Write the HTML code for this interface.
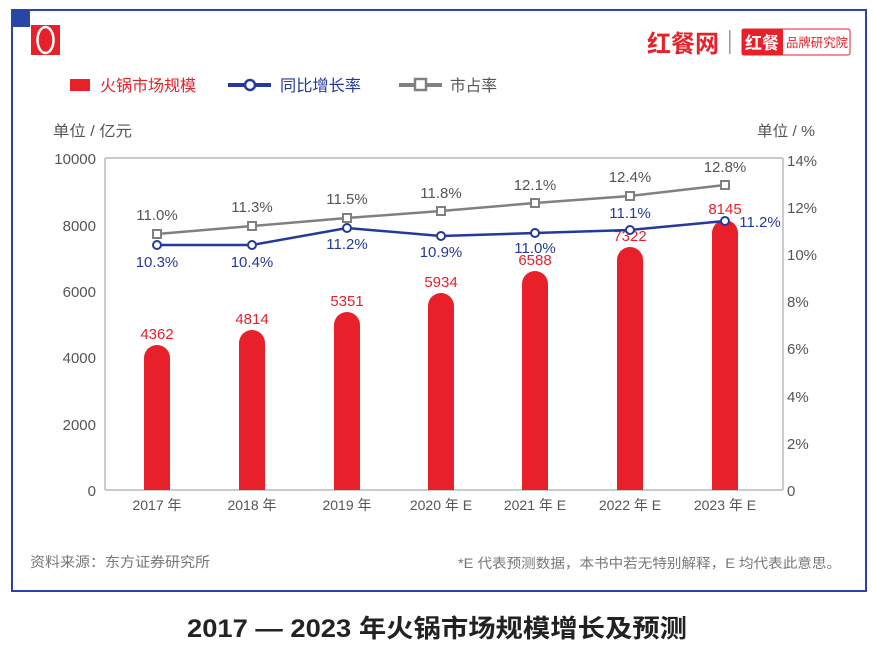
<!DOCTYPE html><html><head><meta charset="utf-8"><style>
body{margin:0;width:873px;height:654px;background:#fff;font-family:"Liberation Sans","Noto Sans CJK SC",sans-serif;overflow:hidden}
</style></head><body>
<svg width="873" height="654" xmlns="http://www.w3.org/2000/svg" font-family="Liberation Sans, Noto Sans CJK SC, sans-serif">
<rect x="12" y="10" width="854" height="581" fill="#fff" stroke="#2a45a8" stroke-width="2"/>
<rect x="11" y="9" width="19" height="18" fill="#2a45a8"/>
<rect x="31" y="25" width="29" height="30" fill="#e8202a"/>
<ellipse cx="45.5" cy="40" rx="8" ry="13" fill="none" stroke="#fff" stroke-width="2.5"/>
<text x="647" y="52" font-size="24" font-weight="bold" fill="#e8202a">红餐网</text>
<rect x="729" y="30" width="1.5" height="24" fill="#999"/>
<rect x="742" y="29" width="108" height="26" fill="#fff" stroke="#e8202a" rx="2"/>
<rect x="742" y="29" width="41" height="26" fill="#e8202a"/>
<text x="745" y="49" font-size="17" font-weight="bold" fill="#fff">红餐</text>
<text x="786" y="47" font-size="12.5" fill="#e8202a" textLength="62" lengthAdjust="spacingAndGlyphs">品牌研究院</text>
<rect x="70" y="79" width="20" height="12" fill="#e8202a"/>
<text x="100" y="91" font-size="16" fill="#e8202a" textLength="96" lengthAdjust="spacingAndGlyphs">火锅市场规模</text>
<line x1="228" y1="85" x2="271" y2="85" stroke="#24399a" stroke-width="4"/>
<circle cx="250" cy="85" r="5" fill="#fff" stroke="#24399a" stroke-width="2.5"/>
<text x="280" y="91" font-size="16" fill="#24399a" textLength="81" lengthAdjust="spacingAndGlyphs">同比增长率</text>
<line x1="399" y1="85" x2="442" y2="85" stroke="#808080" stroke-width="4"/>
<rect x="415" y="79" width="11" height="11" fill="#fff" stroke="#808080" stroke-width="2.5"/>
<text x="450" y="91" font-size="16" fill="#555" textLength="47" lengthAdjust="spacingAndGlyphs">市占率</text>
<text x="53" y="136" font-size="15" fill="#555" textLength="79" lengthAdjust="spacingAndGlyphs">单位 / 亿元</text>
<text x="757" y="136" font-size="15" fill="#555" textLength="58" lengthAdjust="spacingAndGlyphs">单位 / %</text>
<g stroke="#aaa" stroke-width="1.2">
<line x1="105" y1="158" x2="783" y2="158"/>
<line x1="105" y1="490" x2="783" y2="490"/>
<line x1="105" y1="158" x2="105" y2="490"/>
<line x1="783" y1="158" x2="783" y2="490"/>
</g>
<g font-size="15" fill="#555" text-anchor="end">
<text x="96" y="164">10000</text><text x="96" y="231">8000</text><text x="96" y="297">6000</text><text x="96" y="363">4000</text><text x="96" y="430">2000</text><text x="96" y="496">0</text>
</g>
<g font-size="15" fill="#555">
<text x="787" y="166">14%</text><text x="787" y="213">12%</text><text x="787" y="260">10%</text><text x="787" y="307">8%</text><text x="787" y="354">6%</text><text x="787" y="402">4%</text><text x="787" y="449">2%</text><text x="787" y="496">0</text>
</g>
<g fill="#e8202a">
<rect x="144" y="345" width="26" height="145" rx="13"/><rect x="144" y="360" width="26" height="130"/>
<rect x="239" y="330" width="26" height="160" rx="13"/><rect x="239" y="345" width="26" height="145"/>
<rect x="334" y="312" width="26" height="178" rx="13"/><rect x="334" y="327" width="26" height="163"/>
<rect x="428" y="293" width="26" height="197" rx="13"/><rect x="428" y="308" width="26" height="182"/>
<rect x="522" y="271" width="26" height="219" rx="13"/><rect x="522" y="286" width="26" height="204"/>
<rect x="617" y="247" width="26" height="243" rx="13"/><rect x="617" y="262" width="26" height="228"/>
<rect x="712" y="220" width="26" height="270" rx="13"/><rect x="712" y="235" width="26" height="255"/>
</g>
<g font-size="15" fill="#e8202a" text-anchor="middle">
<text x="157" y="339">4362</text><text x="252" y="324">4814</text><text x="347" y="306">5351</text><text x="441" y="287">5934</text><text x="535" y="265">6588</text><text x="630" y="241">7322</text><text x="725" y="214">8145</text>
</g>
<polyline points="157,234 252,226 347,218 441,211 535,203 630,196 725,185" fill="none" stroke="#808080" stroke-width="2.5"/>
<g fill="#fff" stroke="#808080" stroke-width="2">
<rect x="153" y="230" width="8" height="8"/><rect x="248" y="222" width="8" height="8"/><rect x="343" y="214" width="8" height="8"/><rect x="437" y="207" width="8" height="8"/><rect x="531" y="199" width="8" height="8"/><rect x="626" y="192" width="8" height="8"/><rect x="721" y="181" width="8" height="8"/>
</g>
<g font-size="15" fill="#555" text-anchor="middle">
<text x="157" y="220">11.0%</text><text x="252" y="212">11.3%</text><text x="347" y="204">11.5%</text><text x="441" y="198">11.8%</text><text x="535" y="190">12.1%</text><text x="630" y="182">12.4%</text><text x="725" y="172">12.8%</text>
</g>
<polyline points="157,245 252,245 347,228 441,236 535,233 630,230 725,221" fill="none" stroke="#24399a" stroke-width="2.5"/>
<g fill="#fff" stroke="#24399a" stroke-width="2">
<circle cx="157" cy="245" r="4"/><circle cx="252" cy="245" r="4"/><circle cx="347" cy="228" r="4"/><circle cx="441" cy="236" r="4"/><circle cx="535" cy="233" r="4"/><circle cx="630" cy="230" r="4"/><circle cx="725" cy="221" r="4"/>
</g>
<g font-size="15" fill="#24399a" text-anchor="middle">
<text x="157" y="267">10.3%</text><text x="252" y="267">10.4%</text><text x="347" y="249">11.2%</text><text x="441" y="257">10.9%</text><text x="535" y="253">11.0%</text><text x="630" y="218">11.1%</text><text x="760" y="227">11.2%</text>
</g>
<g font-size="14" fill="#555" text-anchor="middle">
<text x="157" y="510">2017 年</text><text x="252" y="510">2018 年</text><text x="347" y="510">2019 年</text><text x="441" y="510">2020 年 E</text><text x="535" y="510">2021 年 E</text><text x="630" y="510">2022 年 E</text><text x="725" y="510">2023 年 E</text>
</g>
<text x="30" y="567" font-size="14" fill="#777" textLength="180" lengthAdjust="spacingAndGlyphs">资料来源：东方证券研究所</text>
<text x="458" y="568" font-size="13.5" fill="#777" textLength="383" lengthAdjust="spacingAndGlyphs">*E 代表预测数据，本书中若无特别解释，E 均代表此意思。</text>
<text x="187" y="637" font-size="25" font-weight="bold" fill="#222" textLength="500" lengthAdjust="spacingAndGlyphs">2017 — 2023 年火锅市场规模增长及预测</text>
</svg>
</body></html>
